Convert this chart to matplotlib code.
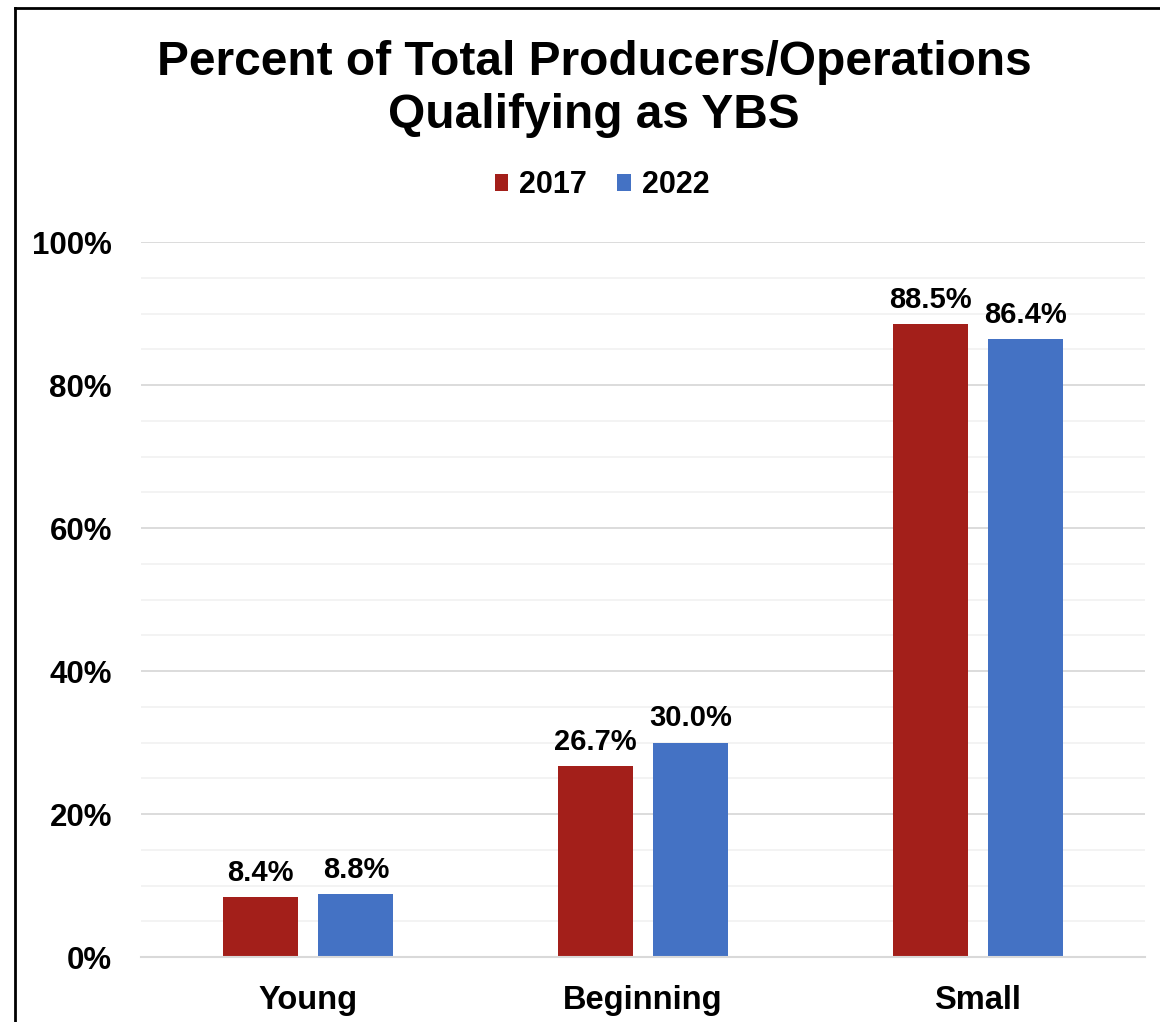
import numpy as np
import matplotlib
matplotlib.use('Agg')
import matplotlib.pyplot as plt
from matplotlib.lines import Line2D
from matplotlib.ticker import MultipleLocator, FuncFormatter

categories = ['Young', 'Beginning', 'Small']
years = ['2017', '2022']
vals_2017 = [8.4, 26.7, 88.5]
vals_2022 = [8.8, 30.0, 86.4]
colors = ['#A31F1A', '#4472C4']

plt.rcParams['font.family'] = ['Liberation Sans', 'DejaVu Sans']
plt.rcParams['font.weight'] = 'bold'

fig = plt.figure(figsize=(11.6, 10.22), dpi=100)
ax = fig.add_axes([0.1216, 0.0636, 0.8654, 0.6996])

x = np.arange(len(categories))
w = 0.224
off = 0.142
for vals, col, lab, sgn in zip([vals_2017, vals_2022], colors, years, [-1, 1]):
    bars = ax.bar(x + sgn * off, vals, width=w, color=col, label=lab, zorder=3)
    for b, v in zip(bars, vals):
        ax.text(b.get_x() + b.get_width() / 2, v + 1.4, '{:.1f}%'.format(v),
                ha='center', va='bottom', fontsize=21, fontweight='bold')

ax.set_xlim(-0.5, 2.5)
ax.set_ylim(0, 100)
ax.yaxis.set_major_locator(MultipleLocator(20))
ax.yaxis.set_minor_locator(MultipleLocator(5))
ax.yaxis.set_major_formatter(FuncFormatter(lambda v, p: '{:.0f}%'.format(v)))
ax.grid(axis='y', which='major', color='#D9D9D9', lw=1.3, zorder=0)
ax.grid(axis='y', which='minor', color='#F2F2F2', lw=1.3, zorder=0)
ax.set_xticks(x)
ax.set_xticklabels(categories)
ax.tick_params(axis='both', which='both', length=0)
ax.tick_params(axis='x', pad=20, labelsize=23.5)
ax.tick_params(axis='y', pad=21, labelsize=22.5)
for s in ['top', 'right', 'left']:
    ax.spines[s].set_visible(False)
ax.spines['bottom'].set_color('#D9D9D9')
ax.spines['bottom'].set_linewidth(1.5)
ax.spines['bottom'].set_zorder(4)

fig.text(0.512, 0.913, 'Percent of Total Producers/Operations\nQualifying as YBS',
         ha='center', va='center', fontsize=34.5, fontweight='bold', linespacing=1.22)

ax.legend(loc='center', bbox_to_anchor=(0.519, 0.8185), bbox_transform=fig.transFigure,
          ncol=2, frameon=False, fontsize=22, handlelength=0.45, handleheight=0.45,
          handletextpad=0.35, columnspacing=1.0)

# frame lines at left and top
fig.add_artist(Line2D([0.0125, 0.0125], [0, 0.992], color='black', lw=2, transform=fig.transFigure))
fig.add_artist(Line2D([0.0125, 1.0], [0.992, 0.992], color='black', lw=2, transform=fig.transFigure))

fig.savefig('out.png', dpi=100, facecolor='white')
